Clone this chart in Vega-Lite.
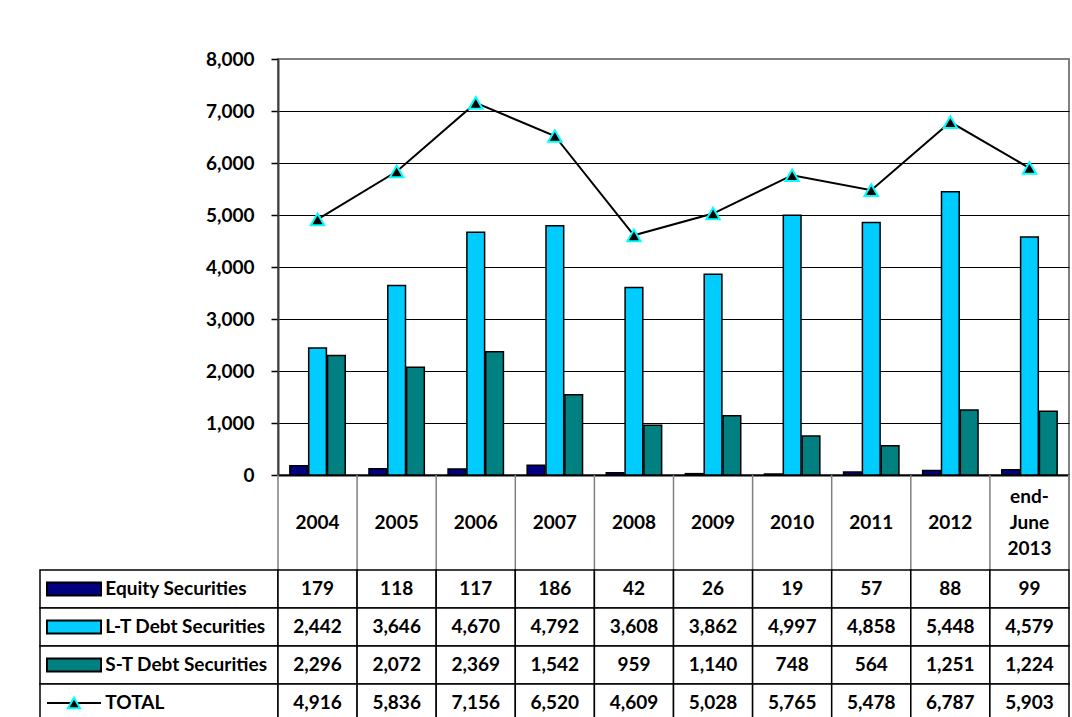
{
  "$schema": "https://vega.github.io/schema/vega-lite/v6.json",
  "padding": {"left": 39, "top": 49, "right": 0, "bottom": 0},
  "background": "white",
  "config": {
    "font": "Lato",
    "view": {"stroke": null},
    "axis": {"labelFont": "Lato", "labelFontWeight": "bold", "labelFontSize": 19, "labelColor": "black"},
    "text": {"font": "Lato", "fontWeight": "bold", "fontSize": 19, "color": "black"}
  },
  "datasets": {
    "d": [
      {"year": "2004", "series": "Equity Securities", "value": 179},
      {"year": "2004", "series": "L-T Debt Securities", "value": 2442},
      {"year": "2004", "series": "S-T Debt Securities", "value": 2296},
      {"year": "2004", "series": "TOTAL", "value": 4916},
      {"year": "2005", "series": "Equity Securities", "value": 118},
      {"year": "2005", "series": "L-T Debt Securities", "value": 3646},
      {"year": "2005", "series": "S-T Debt Securities", "value": 2072},
      {"year": "2005", "series": "TOTAL", "value": 5836},
      {"year": "2006", "series": "Equity Securities", "value": 117},
      {"year": "2006", "series": "L-T Debt Securities", "value": 4670},
      {"year": "2006", "series": "S-T Debt Securities", "value": 2369},
      {"year": "2006", "series": "TOTAL", "value": 7156},
      {"year": "2007", "series": "Equity Securities", "value": 186},
      {"year": "2007", "series": "L-T Debt Securities", "value": 4792},
      {"year": "2007", "series": "S-T Debt Securities", "value": 1542},
      {"year": "2007", "series": "TOTAL", "value": 6520},
      {"year": "2008", "series": "Equity Securities", "value": 42},
      {"year": "2008", "series": "L-T Debt Securities", "value": 3608},
      {"year": "2008", "series": "S-T Debt Securities", "value": 959},
      {"year": "2008", "series": "TOTAL", "value": 4609},
      {"year": "2009", "series": "Equity Securities", "value": 26},
      {"year": "2009", "series": "L-T Debt Securities", "value": 3862},
      {"year": "2009", "series": "S-T Debt Securities", "value": 1140},
      {"year": "2009", "series": "TOTAL", "value": 5028},
      {"year": "2010", "series": "Equity Securities", "value": 19},
      {"year": "2010", "series": "L-T Debt Securities", "value": 4997},
      {"year": "2010", "series": "S-T Debt Securities", "value": 748},
      {"year": "2010", "series": "TOTAL", "value": 5765},
      {"year": "2011", "series": "Equity Securities", "value": 57},
      {"year": "2011", "series": "L-T Debt Securities", "value": 4858},
      {"year": "2011", "series": "S-T Debt Securities", "value": 564},
      {"year": "2011", "series": "TOTAL", "value": 5478},
      {"year": "2012", "series": "Equity Securities", "value": 88},
      {"year": "2012", "series": "L-T Debt Securities", "value": 5448},
      {"year": "2012", "series": "S-T Debt Securities", "value": 1251},
      {"year": "2012", "series": "TOTAL", "value": 6787},
      {"year": "end-June 2013", "series": "Equity Securities", "value": 99},
      {"year": "end-June 2013", "series": "L-T Debt Securities", "value": 4579},
      {"year": "end-June 2013", "series": "S-T Debt Securities", "value": 1224},
      {"year": "end-June 2013", "series": "TOTAL", "value": 5903}
    ]
  },
  "columns": 2,
  "spacing": 0,
  "bounds": "flush",
  "concat": [
    {
      "width": 238,
      "height": 416,
      "data": {"values": [{}]},
      "mark": {"type": "point", "opacity": 0}
    },
    {
      "width": 791,
      "height": 416,
      "view": {"stroke": "#808080", "strokeWidth": 2},
      "data": {"name": "d"},
      "encoding": {
        "x": {
          "field": "year", "type": "nominal", "sort": null,
          "scale": {"paddingInner": 0.3, "paddingOuter": 0.15},
          "axis": {
            "title": null, "labelAngle": 0, "ticks": false,
            "domainColor": "black", "domainWidth": 2,
            "labelPadding": 21, "labelBaseline": "middle", "labelLineHeight": 26,
            "labelExpr": "datum.value == 'end-June 2013' ? ['end-', 'June', '2013'] : ['', datum.label, '']"
          }
        },
        "y": {
          "field": "value", "type": "quantitative",
          "scale": {"domain": [0, 8000], "nice": false},
          "axis": {
            "title": null, "values": [0, 1000, 2000, 3000, 4000, 5000, 6000, 7000, 8000],
            "format": ",d", "tickSize": 7, "tickColor": "black", "tickWidth": 1.5,
            "labelPadding": 17, "domainColor": "#404040", "domainWidth": 2,
            "gridColor": {"condition": {"test": "datum.value == 8000", "value": "#808080"}, "value": "black"},
            "gridWidth": 1.2, "gridOpacity": 1
          }
        }
      },
      "layer": [
        {
          "transform": [{"filter": "datum.series != 'TOTAL'"}],
          "mark": {"type": "bar", "stroke": "black", "strokeWidth": 1.5},
          "encoding": {
            "xOffset": {"field": "series", "type": "nominal", "sort": ["Equity Securities", "L-T Debt Securities", "S-T Debt Securities"], "scale": {"paddingInner": 0.06}},
            "color": {
              "field": "series", "type": "nominal",
              "scale": {"domain": ["Equity Securities", "L-T Debt Securities", "S-T Debt Securities"], "range": ["#000080", "#00CCFF", "#008080"]},
              "legend": null
            }
          }
        },
        {
          "transform": [{"filter": "datum.series == 'TOTAL'"}],
          "mark": {"type": "line", "color": "black", "strokeWidth": 2}
        },
        {
          "transform": [{"filter": "datum.series == 'TOTAL'"}],
          "mark": {"type": "point", "shape": "triangle-up", "filled": true, "fill": "black", "stroke": "#00FFFF", "strokeWidth": 2, "size": 180, "opacity": 1}
        }
      ]
    },
    {
      "width": 238,
      "height": 95,
      "data": {"values": [{}]},
      "mark": {"type": "point", "opacity": 0}
    },
    {
      "width": 791,
      "height": 95,
      "data": {"name": "d"},
      "transform": [{"filter": "datum.series == 'TOTAL'"}],
      "encoding": {
        "x": {
          "field": "year", "type": "nominal", "sort": null,
          "scale": {"domain": ["2004", "2005", "2006", "2007", "2008", "2009", "2010", "2011", "2012", "end-June 2013"], "paddingInner": 0, "paddingOuter": 0},
          "axis": null, "bandPosition": 0
        }
      },
      "layer": [
        {"mark": {"type": "rule", "color": "#808080", "strokeWidth": 1.5}},
        {
          "transform": [{"filter": "datum.year == 'end-June 2013'"}],
          "mark": {"type": "rule", "color": "#808080", "strokeWidth": 2},
          "encoding": {"x": {"field": "year", "type": "nominal", "sort": null, "bandPosition": 1}}
        }
      ]
    },
    {
      "width": 238,
      "height": 152,
      "data": {"name": "d"},
      "transform": [{"filter": "datum.year == '2004'"}],
      "encoding": {
        "y": {
          "field": "series", "type": "nominal",
          "sort": ["Equity Securities", "L-T Debt Securities", "S-T Debt Securities", "TOTAL"],
          "scale": {"paddingInner": 0, "paddingOuter": 0},
          "axis": null
        }
      },
      "layer": [
        {
          "mark": {"type": "rect", "fill": "white", "stroke": "black", "strokeWidth": 1.5}
        },
        {
          "transform": [{"filter": "datum.series != 'TOTAL'"}],
          "mark": {"type": "bar", "width": 54, "height": 13, "stroke": "black", "strokeWidth": 2},
          "encoding": {
            "x": {"datum": "k", "type": "nominal", "scale": {"domain": ["k", "n1", "n2", "n3"], "paddingInner": 0, "paddingOuter": 0.1}, "axis": null},
            "color": {
              "field": "series", "type": "nominal",
              "scale": {"domain": ["Equity Securities", "L-T Debt Securities", "S-T Debt Securities"], "range": ["#000080", "#00CCFF", "#008080"]},
              "legend": null
            }
          }
        },
        {
          "transform": [{"filter": "datum.series == 'TOTAL'"}],
          "mark": {"type": "bar", "width": 54, "height": 2, "color": "black"},
          "encoding": {"x": {"datum": "k", "type": "nominal"}}
        },
        {
          "transform": [{"filter": "datum.series == 'TOTAL'"}],
          "mark": {"type": "point", "shape": "triangle-up", "filled": true, "fill": "black", "stroke": "#00FFFF", "strokeWidth": 2, "size": 150, "opacity": 1},
          "encoding": {"x": {"datum": "k", "type": "nominal"}}
        },
        {
          "mark": {"type": "text", "align": "left", "dx": 3},
          "encoding": {
            "x": {"datum": "n1", "type": "nominal", "bandPosition": 0},
            "text": {"field": "series"}
          }
        }
      ]
    },
    {
      "width": 791,
      "height": 152,
      "data": {"name": "d"},
      "encoding": {
        "x": {"field": "year", "type": "nominal", "sort": null, "scale": {"paddingInner": 0, "paddingOuter": 0}, "axis": null},
        "y": {
          "field": "series", "type": "nominal",
          "sort": ["Equity Securities", "L-T Debt Securities", "S-T Debt Securities", "TOTAL"],
          "scale": {"paddingInner": 0, "paddingOuter": 0},
          "axis": null
        }
      },
      "layer": [
        {"mark": {"type": "rect", "fill": "white", "stroke": "black", "strokeWidth": 1.5}},
        {"mark": {"type": "text"}, "encoding": {"text": {"field": "value", "type": "quantitative", "format": ","}}}
      ]
    }
  ]
}
